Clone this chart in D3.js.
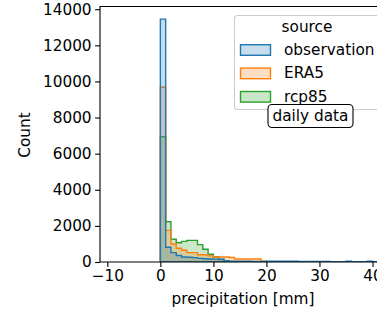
<!DOCTYPE html>
<html>
<head>
<meta charset="utf-8">
<script src="https://cdn.jsdelivr.net/npm/d3@7"></script>
<style>
body { margin: 0; background: #fff; overflow: hidden; }
text { font-family: "DejaVu Sans", sans-serif; fill: #000; }
</style>
</head>
<body>
<svg id="chart" width="377" height="312"></svg>
<script>
// histogram counts per 1 mm bin, starting at 0 mm
const sources = ['observation', 'ERA5', 'rcp85'];
const colors = ['#1f77b4', '#ff7f0e', '#2ca02c'];
const binWidth = 1;
const obsCounts = [13450, 820, 520, 360, 280, 260, 240, 200, 180, 170, 160, 150,
	60, 50, 50, 40, 40, 30, 30, 30, 40, 40, 40, 40, 40, 40, 30, 30, 30, 30, 30, 30,
	10, 10, 10, 40, 10, 10, 10, 40, 10, 10, 10];
const era5Counts = [9680, 1750, 1000, 760, 650, 520, 520, 400, 400, 340, 280, 280,
	280, 250, 170, 170, 170, 170, 170, 40, 10, 5];
const rcp85Counts = [6940, 2230, 1260, 1070, 1140, 1200, 1200, 960, 710, 430, 290,
	140, 60, 20, 10];
const xTicks = [-10, 0, 10, 20, 30, 40];
const yTicks = [0, 2000, 4000, 6000, 8000, 10000, 12000, 14000];

const series = [obsCounts, era5Counts, rcp85Counts];
const fontSize = '15.3px';

const svg = d3.select('#chart');
const plotLeft = 100, plotTop = 6.5, plotBottom = 262;

const x = d3.scaleLinear().domain([-11.38, 40.85]).range([plotLeft, 377]);
const y = d3.scaleLinear().domain([0, 14150]).range([plotBottom, plotTop]);

svg.append('defs').append('clipPath').attr('id', 'plotclip')
	.append('rect').attr('x', plotLeft).attr('y', plotTop).attr('width', 400).attr('height', plotBottom - plotTop);

const area = d3.area()
	.curve(d3.curveStepAfter)
	.x((d) => x(d.edge))
	.y0(y(0))
	.y1((d) => y(d.count));

const plot = svg.append('g').attr('clip-path', 'url(#plotclip)');

// seaborn draws hue levels in reverse, so observation ends on top
for (let i = series.length - 1; i >= 0; i--) {
	const counts = series[i];
	const pts = counts.map((c, k) => ({ edge: k * binWidth, count: c }));
	pts.push({ edge: counts.length * binWidth, count: counts[counts.length - 1] });
	plot.append('path')
		.datum(pts)
		.attr('d', area)
		.attr('fill', colors[i])
		.attr('fill-opacity', 0.25)
		.attr('stroke', colors[i])
		.attr('stroke-width', 1.4);
}

// axes
const xAxis = svg.append('g')
	.attr('transform', 'translate(0,' + plotBottom + ')')
	.call(d3.axisBottom(x).tickValues(xTicks).tickSize(4.9).tickPadding(3.5).tickSizeOuter(0));
const yAxis = svg.append('g')
	.attr('transform', 'translate(' + plotLeft + ',0)')
	.call(d3.axisLeft(y).tickValues(yTicks).tickFormat((d) => d).tickSize(4.9).tickPadding(3.5).tickSizeOuter(0));

[xAxis, yAxis].forEach((a) => {
	a.select('.domain').remove();
	a.selectAll('.tick line').attr('stroke', '#000').attr('stroke-width', 1.1);
	a.selectAll('.tick text').style('font-size', fontSize).attr('fill', '#000');
});

// spines (drawn over the data like matplotlib)
svg.append('path')
	.attr('d', 'M' + plotLeft + ',' + plotBottom + 'V' + plotTop + 'H380 M' + plotLeft + ',' + plotBottom + 'H380')
	.attr('fill', 'none')
	.attr('stroke', '#000')
	.attr('stroke-width', 1.1);

svg.append('text')
	.attr('x', 243).attr('y', 299)
	.attr('text-anchor', 'middle')
	.attr('dominant-baseline', 'central')
	.style('font-size', fontSize)
	.text('precipitation [mm]');

svg.append('text')
	.attr('transform', 'translate(25,135) rotate(-90)')
	.attr('text-anchor', 'middle')
	.attr('dominant-baseline', 'central')
	.style('font-size', fontSize)
	.text('Count');

// legend
const legend = svg.append('g');
legend.append('rect')
	.attr('x', 234.5).attr('y', 15.5).attr('width', 150).attr('height', 94)
	.attr('rx', 3)
	.attr('fill', '#fff').attr('fill-opacity', 0.8)
	.attr('stroke', '#cccccc').attr('stroke-width', 1.1);
legend.append('text')
	.attr('x', 307).attr('y', 27)
	.attr('text-anchor', 'middle')
	.attr('dominant-baseline', 'central')
	.style('font-size', fontSize)
	.text('source');
sources.forEach((s, i) => {
	const cy = 50 + i * 23.4;
	legend.append('rect')
		.attr('x', 240.5).attr('y', cy - 5.3).attr('width', 30).attr('height', 10.6)
		.attr('fill', colors[i]).attr('fill-opacity', 0.25)
		.attr('stroke', colors[i]).attr('stroke-width', 1.4);
	legend.append('text')
		.attr('x', 284).attr('y', cy)
		.attr('dominant-baseline', 'central')
		.style('font-size', fontSize)
		.text(s);
});

// annotation box
svg.append('rect')
	.attr('x', 268).attr('y', 104.5).attr('width', 85).attr('height', 23)
	.attr('rx', 4)
	.attr('fill', '#fff')
	.attr('stroke', '#000').attr('stroke-width', 1.1);
svg.append('text')
	.attr('x', 310.5).attr('y', 116)
	.attr('text-anchor', 'middle')
	.attr('dominant-baseline', 'central')
	.style('font-size', fontSize)
	.text('daily data');
</script>
</body>
</html>
